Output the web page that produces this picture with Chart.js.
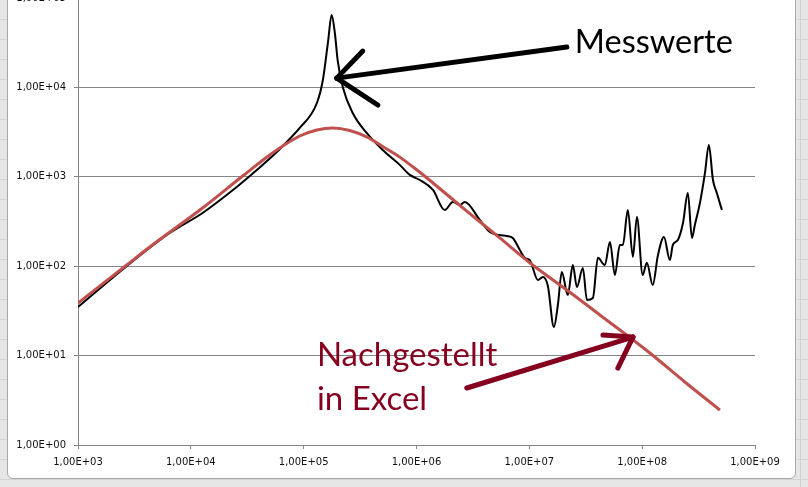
<!DOCTYPE html>
<html><head><meta charset="utf-8">
<script src="https://cdn.jsdelivr.net/npm/chart.js@4"></script>
<style>
html,body{margin:0;padding:0;width:808px;height:487px;overflow:hidden;}
body{position:relative;background-color:#e6e6e6;
 background-image:repeating-linear-gradient(to bottom, transparent 0 19px, #d4d4d4 19px 20px);}
#colline{position:absolute;left:800px;top:0;width:1px;height:487px;background:#d0d0d0;}
#frame{position:absolute;left:7px;top:-10px;width:789px;height:489px;background:#fff;border:1px solid #a8a8a8;border-radius:6px;box-sizing:border-box;}
#wrap{position:absolute;left:0;top:-20px;width:808px;height:507px;}
</style>
</head>
<body>
<div id="colline"></div>
<div id="frame"></div>
<div id="wrap"><canvas id="c" width="808" height="507"></canvas></div>
<script>
// Measured curve ("Messwerte")
const freqMess = [1.00e3, 2.70e3, 6.50e3, 1.27e4, 2.55e4, 3.84e4, 5.78e4, 7.40e4, 9.23e4, 1.31e5, 1.48e5,
  1.64e5, 1.77e5, 1.89e5, 2.00e5, 2.22e5, 2.72e5, 3.62e5, 5.02e5, 7.11e5, 8.73e5,
  1.07e6, 1.40e6, 1.78e6, 2.10e6, 2.42e6, 2.68e6, 3.64e6, 4.47e6, 5.47e6, 6.32e6,
  7.14e6, 8.24e6, 9.12e6, 1.01e7, 1.19e7, 1.32e7, 1.46e7, 1.65e7, 1.79e7, 1.94e7,
  2.19e7, 2.43e7, 2.64e7, 2.98e7, 3.24e7, 3.66e7, 4.05e7, 4.67e7, 5.18e7, 5.73e7,
  6.34e7, 6.75e7, 7.46e7, 8.28e7, 8.98e7, 1.01e8, 1.10e8, 1.24e8, 1.38e8, 1.56e8,
  1.76e8, 1.87e8, 2.07e8, 2.30e8, 2.54e8, 2.76e8, 2.93e8, 3.25e8, 3.60e8, 3.90e8,
  4.24e8, 4.59e8, 5.09e8];
const valMess = [35.0, 100, 235, 394, 769, 1190, 1890, 2600, 3520, 6690, 12100,
  31400, 64600, 40600, 20200, 10100, 5170, 3090, 1990, 1360, 1050,
  921, 712, 425, 523, 484, 523, 329, 241, 223, 218,
  207, 152, 124, 117, 70.1, 75.7, 60.1, 20.9, 36.8, 86.1,
  47.6, 103, 58.5, 95.5, 41.9, 44.1, 124, 103, 187, 79.7,
  173, 173, 425, 127, 355, 79.7, 109, 61.6, 133, 212,
  117, 173, 196, 304, 659, 207, 289, 509, 1100, 2270,
  921, 659, 425];

// Fitted curve ("Nachgestellt in Excel")
const freqFit = [1.00e3, 2.70e3, 4.32e3, 1.27e4, 2.88e4, 5.00e4, 6.53e4, 9.23e4, 1.31e5, 1.81e5,
  2.56e5, 3.62e5, 5.02e5, 7.11e5, 1.01e6, 1.40e6, 2.79e6, 5.47e6, 1.07e7, 2.15e7,
  4.22e7, 1.17e8, 2.39e8, 4.89e8];
const valFit = [38.7, 103, 164, 448, 1020, 1750, 2210, 2860, 3340, 3520,
  3300, 2790, 2180, 1660, 1190, 853, 414, 207, 103, 54.2,
  28.5, 10.7, 5.07, 2.46];

const xTicks = [1e3, 1e4, 1e5, 1e6, 1e7, 1e8, 1e9];
const xTickLabels = ['1,00E+03','1,00E+04','1,00E+05','1,00E+06','1,00E+07','1,00E+08','1,00E+09'];
const yTicks = [1, 10, 100, 1e3, 1e4, 1e5];
const yTickLabels = ['1,00E+00','1,00E+01','1,00E+02','1,00E+03','1,00E+04','1,00E+05'];

// Annotation anchors (data coordinates)
const noteMess = {text: 'Messwerte', at: [2.53e7, 2.43e4], tip: [1.965e5, 1.27e4], tail: [2.15e7, 2.83e4],
  barbs: [[3.34e5, 2.55e4], [4.54e5, 6.35e3]]};
const noteFit = {lines: ['Nachgestellt', 'in Excel'], at: [1.31e5, 7.65], at2: [1.31e5, 2.46],
  tip: [8.28e7, 16.1], tail: [2.79e6, 4.34], barbs: [[4.49e7, 17.0], [6.09e7, 7.26]]};

const gridColor = '#868686';
const tickFont = {family: 'DejaVu Sans', size: 10};

const annotPlugin = {
  id: 'annot',
  afterDraw(chart) {
    const {ctx, scales: {x, y}} = chart;
    const P = p => [x.getPixelForValue(p[0]), y.getPixelForValue(p[1])];
    function arrow(n, color) {
      ctx.save();
      ctx.strokeStyle = color; ctx.lineWidth = 5; ctx.lineCap = 'round'; ctx.lineJoin = 'round';
      const t = P(n.tip), a = P(n.tail);
      ctx.beginPath(); ctx.moveTo(a[0], a[1]); ctx.lineTo(t[0], t[1]); ctx.stroke();
      n.barbs.forEach(b => { const q = P(b); ctx.beginPath(); ctx.moveTo(t[0], t[1]); ctx.lineTo(q[0], q[1]); ctx.stroke(); });
      ctx.restore();
    }
    arrow(noteMess, '#000');
    arrow(noteFit, '#85001f');
    ctx.save();
    ctx.textBaseline = 'alphabetic'; ctx.textAlign = 'left';
    ctx.font = '32.5px Lato';
    ctx.fillStyle = '#000';
    let p = P(noteMess.at); ctx.fillText(noteMess.text, p[0], p[1]);
    ctx.font = '33px Lato';
    ctx.fillStyle = '#85001f';
    p = P(noteFit.at); ctx.fillText(noteFit.lines[0], p[0], p[1]);
    p = P(noteFit.at2); ctx.fillText(noteFit.lines[1], p[0], p[1]);
    ctx.restore();
  }
};

new Chart(document.getElementById('c'), {
  type: 'line',
  data: {
    datasets: [
      {label: 'Nachgestellt in Excel', data: freqFit.map((f, i) => ({x: f, y: valFit[i]})),
       borderColor: '#c0504d', borderWidth: 3, pointRadius: 0, cubicInterpolationMode: 'monotone', fill: false},
      {label: 'Messwerte', data: freqMess.map((f, i) => ({x: f, y: valMess[i]})),
       borderColor: '#000', borderWidth: 2, pointRadius: 0, cubicInterpolationMode: 'monotone', fill: false}
    ]
  },
  options: {
    responsive: false, animation: false, events: [],
    layout: {padding: {left: 0, right: 53, top: 18, bottom: 0}},
    plugins: {legend: {display: false}, tooltip: {enabled: false}},
    scales: {
      x: {
        type: 'logarithmic', min: 1e3, max: 1e9,
        afterBuildTicks: s => { s.ticks = xTicks.map(v => ({value: v})); },
        afterFit: s => { s.height = 42; },
        ticks: {callback: (v, i) => xTickLabels[i], font: tickFont, color: '#111', padding: 7, autoSkip: false, maxRotation: 0},
        grid: {drawOnChartArea: false, drawTicks: true, tickLength: 4, color: gridColor},
        border: {color: gridColor}
      },
      y: {
        type: 'logarithmic', min: 1, max: 1e5,
        afterBuildTicks: s => { s.ticks = yTicks.map(v => ({value: v})); },
        afterFit: s => { s.width = 78; },
        ticks: {callback: (v, i) => yTickLabels[i], font: tickFont, color: '#111', padding: 8, autoSkip: false},
        grid: {drawTicks: true, tickLength: 4, color: gridColor},
        border: {color: gridColor}
      }
    }
  },
  plugins: [annotPlugin]
});
</script>
</body></html>
